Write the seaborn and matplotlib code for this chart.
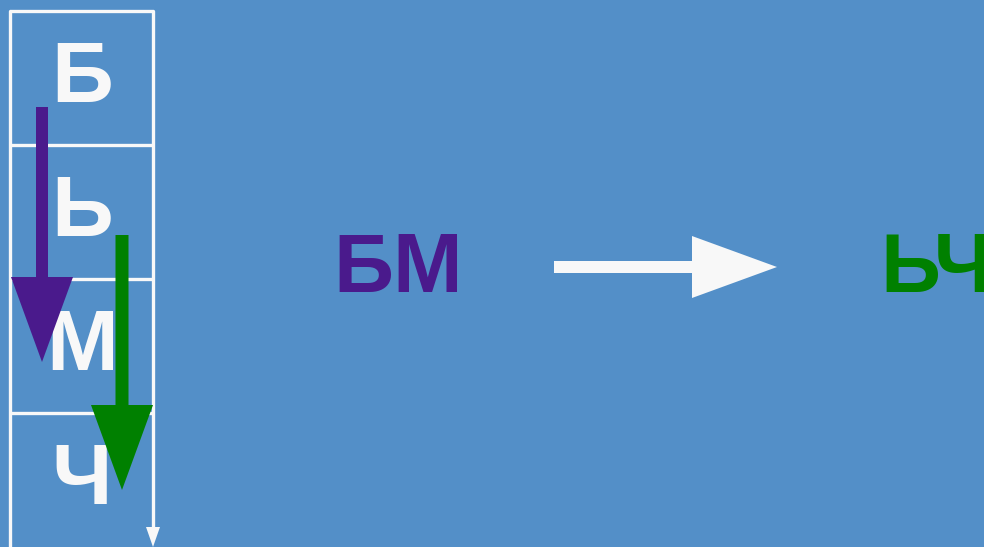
import matplotlib.pyplot as plt
import seaborn as sns

# cells of the column, top to bottom
letters = ["Б", "Ь", "М", "Ч"]
cell_lines = [11, 145, 279, 413]
letter_baselines = [102, 236, 370, 504]

# the two pairs
pair_left = "БМ"
pair_right = "ЬЧ"

bg = "#538fc8"
white = "#f8f8f8"
purple = "#4a1a8c"
green = "#008000"

sns.set_theme(style="white")
plt.rcParams['font.family'] = ['Liberation Sans', 'DejaVu Sans']

fig = plt.figure(figsize=(9.84, 5.47), dpi=100)
fig.patch.set_facecolor(bg)
ax = fig.add_axes([0, 0, 1, 1])
ax.set_facecolor(bg)
ax.set_xlim(0, 984)
ax.set_ylim(547, 0)
ax.axis("off")

# column box
for y in cell_lines:
    ax.plot([10, 153], [y, y], color=white, lw=2.4, solid_capstyle="butt")
ax.plot([10, 10], [11, 547], color=white, lw=2.4)
ax.plot([153, 153], [11, 530], color=white, lw=2.4)
ax.arrow(153, 525, 0, 22, width=1, head_width=14, head_length=20,
         length_includes_head=True, color=white, lw=0)

for ch, yb in zip(letters, letter_baselines):
    ax.text(82, yb, ch, color=white, fontsize=62, fontweight="bold",
            ha="center", va="baseline", zorder=2)

# down arrows, drawn over the letters
ax.arrow(42, 107, 0, 255, width=12, head_width=62, head_length=85,
         length_includes_head=True, color=purple, lw=0, zorder=5)
ax.arrow(122, 235, 0, 255, width=13, head_width=62, head_length=85,
         length_includes_head=True, color=green, lw=0, zorder=5)

# pair transformation
ax.text(398, 292, pair_left, color=purple, fontsize=60, fontweight="bold",
        ha="center", va="baseline")
ax.arrow(554, 267, 223, 0, width=12, head_width=62, head_length=85,
         length_includes_head=True, color=white, lw=0)
ax.text(880, 292, pair_right, color=green, fontsize=60, fontweight="bold",
        ha="left", va="baseline")

fig.savefig("out.png", dpi=100, facecolor=bg)
